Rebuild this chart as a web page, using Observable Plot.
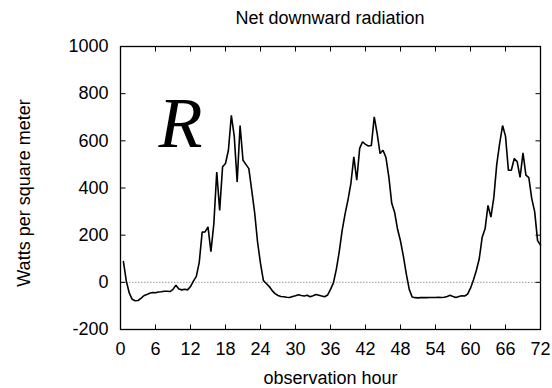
<!DOCTYPE html>
<html><head><meta charset="utf-8">
<script src="https://cdn.jsdelivr.net/npm/d3@7"></script>
<script src="https://cdn.jsdelivr.net/npm/@observablehq/plot@0.6"></script>
<style>
body{margin:0;background:#fff;font-family:"Liberation Sans",Arial,sans-serif;}
#title{height:36px;line-height:36px;font-size:18px;text-align:center;padding-left:108px;width:444px;color:#000;}
</style></head><body>
<div id="title">Net downward radiation</div>
<div id="chart"></div>
<script>
const hours = [0.5,1,1.5,2,2.5,3,3.5,4,4.5,5,5.5,6,6.5,7,7.5,8,8.5,9,9.5,10,10.5,11,11.5,12,12.5,13,13.5,14,14.5,15,15.5,16,16.5,17,17.5,18,18.5,19,19.5,20,20.5,21,21.5,22,22.5,23,23.5,24,24.5,25,25.5,26,26.5,27,27.5,28,28.5,29,29.5,30,30.5,31,31.5,32,32.5,33,33.5,34,34.5,35,35.5,36,36.5,37,37.5,38,38.5,39,39.5,40,40.5,41,41.5,42,42.5,43,43.5,44,44.5,45,45.5,46,46.5,47,47.5,48,48.5,49,49.5,50,50.5,51,51.5,52,52.5,53,53.5,54,54.5,55,55.5,56,56.5,57,57.5,58,58.5,59,59.5,60,60.5,61,61.5,62,62.5,63,63.5,64,64.5,65,65.5,66,66.5,67,67.5,68,68.5,69,69.5,70,70.5,71,71.5,72];
const values = [88,5,-45,-72,-78,-77,-68,-57,-52,-46,-43,-44,-41,-40,-38,-38,-39,-30,-12,-28,-32,-29,-32,-18,5,25,85,213,214,235,130,248,468,305,490,504,560,708,620,426,665,518,500,482,390,295,170,80,7,-5,-18,-35,-48,-56,-60,-61,-63,-64,-60,-57,-53,-56,-58,-55,-61,-57,-52,-55,-58,-61,-54,-30,-2,55,130,220,290,350,420,532,433,568,596,585,578,580,702,631,546,560,530,447,335,296,225,175,110,35,-30,-62,-65,-66,-65,-64,-65,-64,-64,-64,-63,-64,-63,-60,-55,-60,-64,-60,-57,-58,-50,-25,10,50,100,191,227,326,277,360,500,589,665,620,475,475,525,512,445,549,455,444,355,300,177,158];
const xTicks = [0,6,12,18,24,30,36,42,48,54,60,66,72];
const yTicks = [-200,0,200,400,600,800,1000];
const xDomain = [0,72];
const yDomain = [-200,1000];

const W = 552, H = 352, mL = 120, mR = 12, mT = 10, mB = 59;
const pw = W - mL - mR, ph = H - mT - mB;
const tl = 5;
const dxu = tl * (xDomain[1]-xDomain[0]) / pw;
const dyu = tl * (yDomain[1]-yDomain[0]) / ph;
const data = hours.map((h,i) => ({h, v: values[i]}));

const chart = Plot.plot({
  width: W, height: H,
  marginLeft: mL, marginRight: mR, marginTop: mT, marginBottom: mB,
  style: {fontSize: "18px", fontFamily: '"Liberation Sans", Arial, sans-serif', color: "#000", background: "#fff", overflow: "visible"},
  x: {domain: xDomain},
  y: {domain: yDomain},
  marks: [
    Plot.ruleY([0], {stroke: "#999", strokeDasharray: "1.5,1.5", strokeWidth: 1}),
    Plot.line(data, {x: "h", y: "v", stroke: "#000", strokeWidth: 1.6, strokeLinejoin: "miter"}),
    Plot.link(yTicks.filter(d => d > yDomain[0] && d < yDomain[1]), {x1: xDomain[0], x2: xDomain[0] + dxu, y1: d => d, y2: d => d, stroke: "#000"}),
    Plot.link(yTicks.filter(d => d > yDomain[0] && d < yDomain[1]), {x1: xDomain[1], x2: xDomain[1] - dxu, y1: d => d, y2: d => d, stroke: "#000"}),
    Plot.link(xTicks.filter(d => d > xDomain[0] && d < xDomain[1]), {x1: d => d, x2: d => d, y1: yDomain[0], y2: yDomain[0] + dyu, stroke: "#000"}),
    Plot.link(xTicks.filter(d => d > xDomain[0] && d < xDomain[1]), {x1: d => d, x2: d => d, y1: yDomain[1], y2: yDomain[1] - dyu, stroke: "#000"}),
    Plot.frame({stroke: "#000", strokeWidth: 1.3}),
    Plot.axisX({ticks: xTicks, tickSize: 0, tickPadding: 13, label: null, tickFormat: d => String(d)}),
    Plot.axisY({ticks: yTicks, tickSize: 0, tickPadding: 12, label: null, tickFormat: d => String(d)}),
    Plot.text(["R"], {x: 10.3, y: 672, text: d => d, fontFamily: '"Liberation Serif", "Times New Roman", serif', fontStyle: "italic", fontSize: 72, lineAnchor: "middle", textAnchor: "middle", fill: "#000"}),
    Plot.text(["Watts per square meter"], {frameAnchor: "left", dx: -96, dy: 5, rotate: -90, textAnchor: "middle", lineAnchor: "middle", text: d => d, fill: "#000"}),
    Plot.text(["observation hour"], {frameAnchor: "bottom", dy: 49, textAnchor: "middle", lineAnchor: "middle", text: d => d, fill: "#000"})
  ]
});
document.getElementById("chart").appendChild(chart);
</script>
</body></html>
